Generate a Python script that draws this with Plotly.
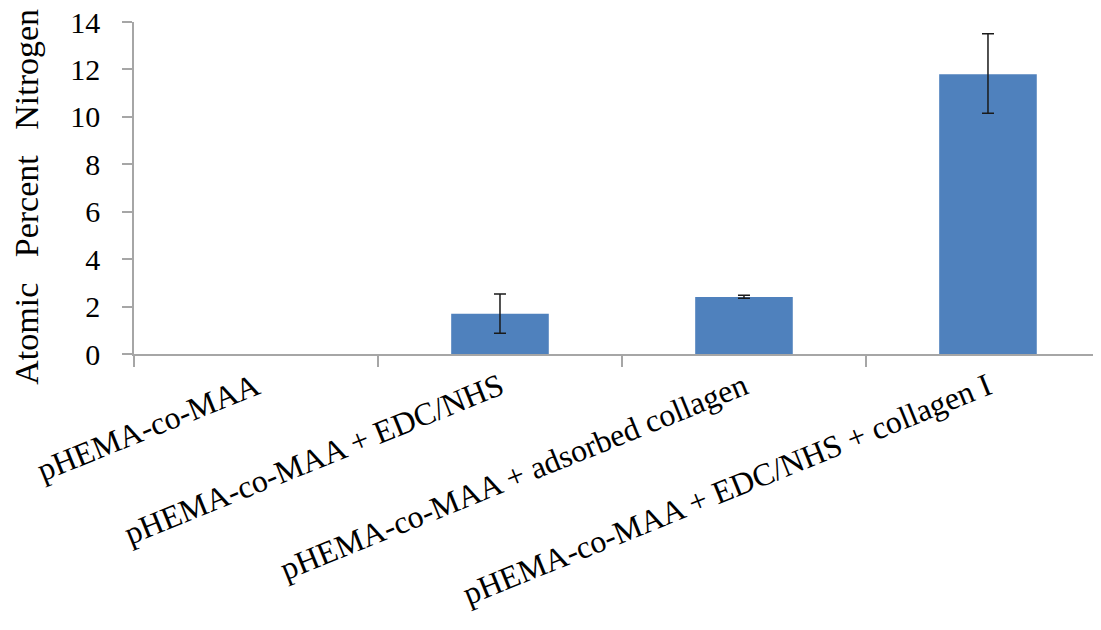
import plotly.graph_objects as go

categories = [
    "pHEMA-co-MAA",
    "pHEMA-co-MAA + EDC/NHS",
    "pHEMA-co-MAA + adsorbed collagen",
    "pHEMA-co-MAA + EDC/NHS + collagen I",
]
values = [0.0, 1.7, 2.4, 11.8]
err_plus = [None, 0.83, 0.08, 1.7]
err_minus = [None, 0.83, 0.05, 1.65]
y_ticks = [0, 2, 4, 6, 8, 10, 12, 14]
y_title = "Atomic\u00a0\u00a0 Percent\u00a0\u00a0 Nitrogen"

FONT = "Liberation Serif, Times New Roman, serif"

fig = go.Figure()
fig.add_trace(
    go.Bar(
        x=categories,
        y=values,
        width=0.4,
        marker=dict(color="#4F81BD", line=dict(width=0)),
        hoverinfo="x+y",
    )
)

# error bars only for points that have them
idx = [i for i, e in enumerate(err_plus) if e is not None]
fig.add_trace(
    go.Scatter(
        x=[categories[i] for i in idx],
        y=[values[i] for i in idx],
        mode="markers",
        marker=dict(size=1, opacity=0),
        error_y=dict(
            type="data",
            symmetric=False,
            array=[err_plus[i] for i in idx],
            arrayminus=[err_minus[i] for i in idx],
            color="#1a1a1a",
            thickness=1.5,
            width=6,
            visible=True,
        ),
        hoverinfo="skip",
    )
)

fig.update_layout(
    width=1101,
    height=630,
    margin=dict(l=126, r=0, t=14, b=284),
    paper_bgcolor="white",
    plot_bgcolor="white",
    showlegend=False,
    font=dict(family=FONT, color="black"),
    xaxis=dict(
        type="category",
        range=[-0.5, 3.496],
        automargin=False,
        showline=True,
        linecolor="#A6A6A6",
        linewidth=1.5,
        ticks="outside",
        tickson="boundaries",
        ticklen=11,
        tickcolor="#A6A6A6",
        tickwidth=1.5,
        tickangle=-22,
        tickfont=dict(size=32, family=FONT),
        showgrid=False,
        zeroline=False,
    ),
    yaxis=dict(
        range=[0, 14],
        tickvals=y_ticks,
        automargin=False,
        showline=True,
        linecolor="#A6A6A6",
        linewidth=1.5,
        ticks="outside",
        ticklen=10,
        tickcolor="#A6A6A6",
        tickwidth=1.5,
        ticklabelstandoff=16,
        ticklabeloverflow="allow",
        tickfont=dict(size=30, family=FONT),
        showgrid=False,
        zeroline=False,
    ),
    annotations=[
        dict(
            text=y_title,
            xref="paper",
            yref="paper",
            x=-0.11,
            y=0.473,
            xanchor="center",
            yanchor="middle",
            textangle=-90,
            showarrow=False,
            font=dict(size=34, family=FONT, color="black"),
        )
    ],
)

fig.write_html("out.html")
